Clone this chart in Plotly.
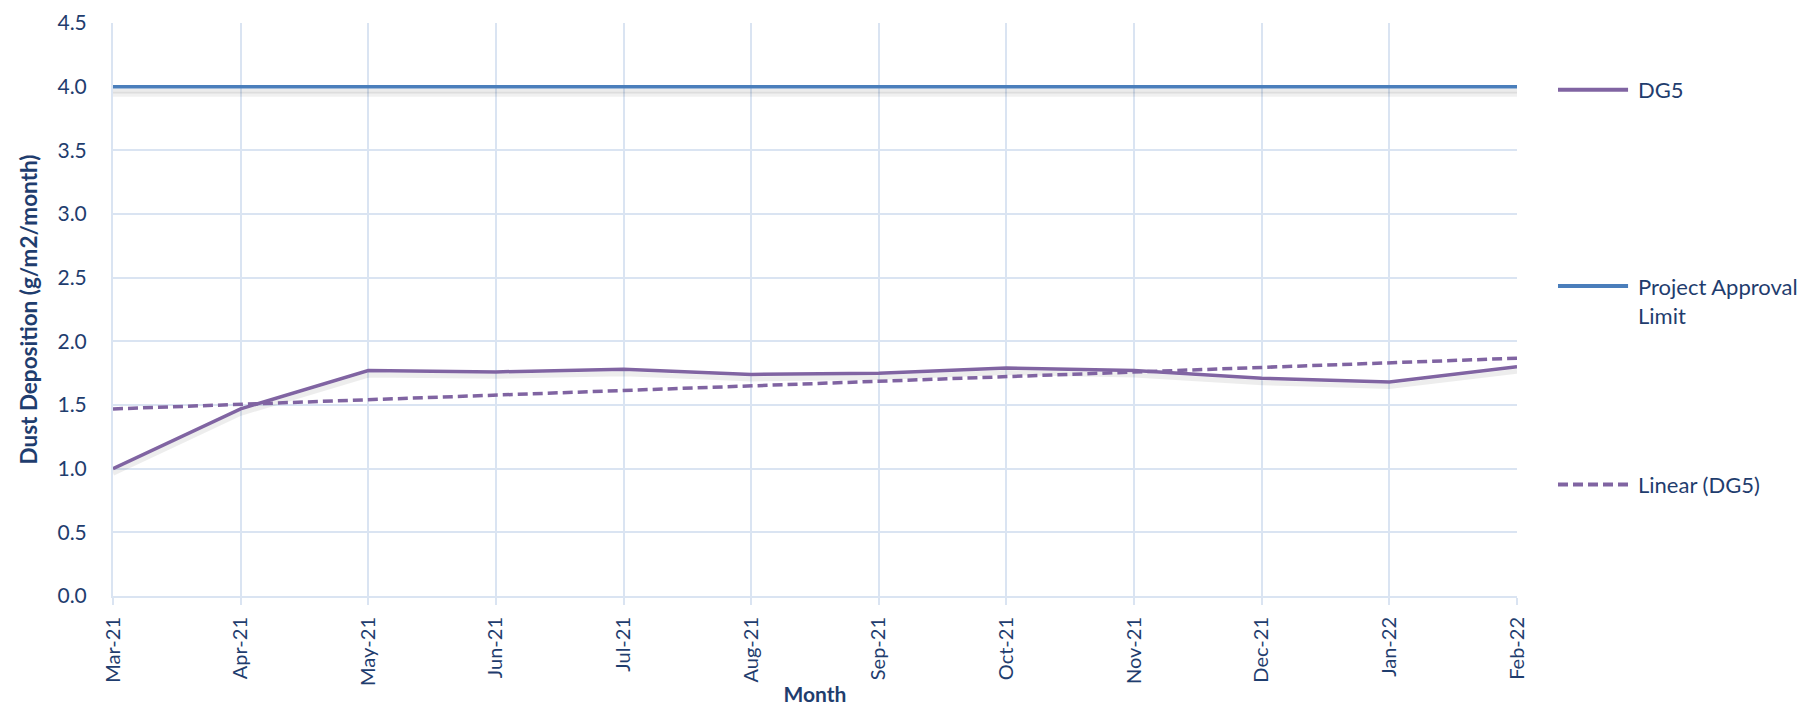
import numpy as np
import plotly.graph_objects as go

months = ["Mar-21", "Apr-21", "May-21", "Jun-21", "Jul-21", "Aug-21",
          "Sep-21", "Oct-21", "Nov-21", "Dec-21", "Jan-22", "Feb-22"]
dg5 = [1.00, 1.47, 1.77, 1.76, 1.78, 1.74, 1.75, 1.79, 1.77, 1.71, 1.68, 1.80]
limit = [4.0] * len(months)
y_ticks = [0.0, 0.5, 1.0, 1.5, 2.0, 2.5, 3.0, 3.5, 4.0, 4.5]
legend_names = ["DG5", "Project Approval<br>Limit", "Linear (DG5)"]

# Linear trendline of DG5 (Excel "Linear (DG5)")
xi = np.arange(len(months))
slope, intercept = np.polyfit(xi, dg5, 1)
trend = list(slope * xi + intercept)

TXT = "#1f3d6e"
GRID = "#dae4f2"
PURPLE = "#8064a2"
BLUE = "#4a7ebb"
FONT = "Lato"
DASH = "10px,5px"

fig = go.Figure()

# soft drop shadows under the lines
for off, a in [(0.06, 0.06), (0.035, 0.08)]:
    fig.add_trace(go.Scatter(x=months, y=[v - off for v in limit], mode="lines",
                             line=dict(color=f"rgba(0,0,0,{a})", width=5),
                             showlegend=False, hoverinfo="skip"))
fig.add_trace(go.Scatter(x=months, y=[v - 0.035 for v in dg5], mode="lines",
                         line=dict(color="rgba(0,0,0,0.07)", width=5),
                         showlegend=False, hoverinfo="skip"))

fig.add_trace(go.Scatter(x=months, y=dg5, mode="lines", name="DG5",
                         line=dict(color=PURPLE, width=3.5), showlegend=False))
fig.add_trace(go.Scatter(x=months, y=limit, mode="lines", name="Project Approval Limit",
                         line=dict(color=BLUE, width=3.5), showlegend=False))
fig.add_trace(go.Scatter(x=months, y=trend, mode="lines", name="Linear (DG5)",
                         line=dict(color=PURPLE, width=3.5, dash=DASH), showlegend=False))

# manual legend (paper coordinates) to match the long Excel legend keys
leg_y = [0.8836, 0.541, 0.1947]
leg_colors = [PURPLE, BLUE, PURPLE]
leg_dash = ["solid", "solid", DASH]
for name, yy, col, dsh in zip(legend_names, leg_y, leg_colors, leg_dash):
    fig.add_shape(type="line", xref="paper", yref="paper",
                  x0=1.0292, x1=1.0791, y0=yy, y1=yy,
                  line=dict(color=col, width=4, dash=dsh))
    two_line = "<br>" in name
    fig.add_annotation(xref="paper", yref="paper", x=1.0845,
                       y=yy + (0.0262 if two_line else 0), xanchor="left",
                       yanchor="top" if two_line else "middle", align="left",
                       text=name, showarrow=False,
                       font=dict(family=FONT, size=22, color=TXT))

fig.update_layout(
    width=1803, height=698,
    margin=dict(l=104.5, r=293.5, t=15, b=109.5),
    plot_bgcolor="white", paper_bgcolor="white",
    font=dict(family=FONT, color=TXT, size=20),
    showlegend=False,
    xaxis=dict(
        type="category", range=[0, len(months) - 1], automargin=False,
        showgrid=True, gridcolor=GRID, gridwidth=1.5,
        showline=True, linecolor=GRID, linewidth=2,
        ticks="outside", ticklen=7, tickcolor=GRID, tickwidth=1.5,
        tickangle=-90, tickfont=dict(family=FONT, size=20, color=TXT),
        ticklabelstandoff=4,
        title=dict(text="<b>Month</b>", font=dict(family=FONT, size=21, color=TXT), standoff=12),
    ),
    yaxis=dict(
        range=[0, 4.5], tickvals=y_ticks, tickformat=".1f", automargin=False,
        ticklabeloverflow="allow",
        showgrid=True, gridcolor=GRID, gridwidth=1.5,
        showline=True, linecolor=GRID, linewidth=2,
        zeroline=False,
        tickfont=dict(family=FONT, size=21, color=TXT),
        ticklabelstandoff=20,
        title=dict(text="<b>Dust Deposition (g/m2/month)</b>",
                   font=dict(family=FONT, size=22.5, color=TXT), standoff=14),
    ),
)

fig.write_html("out.html")
